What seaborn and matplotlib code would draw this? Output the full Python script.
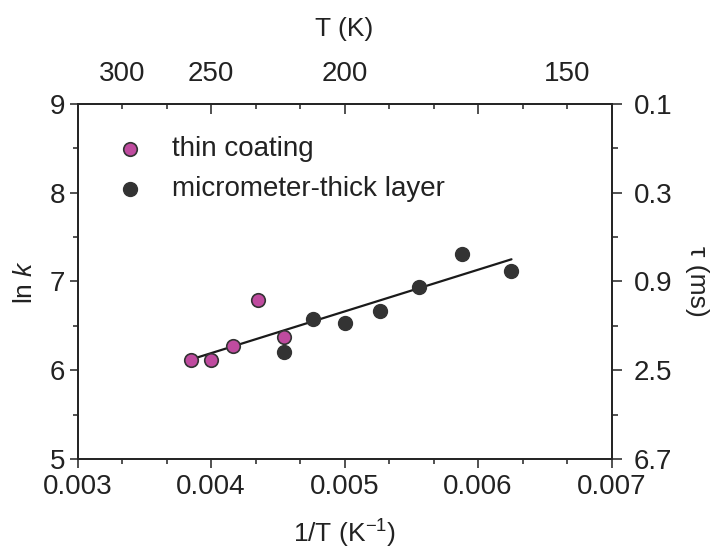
import matplotlib
matplotlib.use("Agg")
import matplotlib.pyplot as plt
import seaborn as sns
import pandas as pd
import numpy as np

# Data
thin_T = [260, 250, 240, 230, 220]
thin_lnk = [6.12, 6.11, 6.27, 6.79, 6.37]
thick_T = [220, 210, 200, 190, 180, 170, 160]
thick_lnk = [6.20, 6.58, 6.53, 6.67, 6.94, 7.31, 7.12]
fit_x = [1 / 260, 1 / 160]
fit_y = [6.12, 7.25]

xticks = [0.003, 0.004, 0.005, 0.006, 0.007]
xtick_labels = ["0.003", "0.004", "0.005", "0.006", "0.007"]
yticks = [5, 6, 7, 8, 9]
tau_labels = ["6.7", "2.5", "0.9", "0.3", "0.1"]
top_T_labels = [300, 250, 200, 150]

sns.set_theme(style="ticks")
plt.rcParams["font.family"] = ["Liberation Sans", "DejaVu Sans"]
plt.rcParams["mathtext.fontset"] = "custom"
plt.rcParams["mathtext.rm"] = "Liberation Sans"
plt.rcParams["mathtext.it"] = "Liberation Sans:italic"

thin = pd.DataFrame({"x": [1 / t for t in thin_T], "y": thin_lnk})
thick = pd.DataFrame({"x": [1 / t for t in thick_T], "y": thick_lnk})
fit = pd.DataFrame({"x": fit_x, "y": fit_y})

fig = plt.figure(figsize=(7.12, 5.53), dpi=100)
ax = fig.add_axes([0.109, 0.170, 0.750, 0.642])

TXT = "#222222"
sns.lineplot(data=fit, x="x", y="y", ax=ax, color="#1a1a1a", lw=1.6, zorder=2)
sns.scatterplot(data=thin, x="x", y="y", ax=ax, s=95, color="#BF4B9F",
                edgecolor="#333333", linewidth=1.2, label="thin coating", zorder=3)
sns.scatterplot(data=thick, x="x", y="y", ax=ax, s=100, color="#333333",
                edgecolor="#333333", linewidth=1.0, label="micrometer-thick layer", zorder=3)

ax.set_xlim(0.003, 0.007)
ax.set_ylim(5, 9)
fs = 20
ax.set_xticks(xticks, xtick_labels, fontsize=fs)
ax.set_xticks(np.arange(0.003, 0.00701, 0.001 / 3), minor=True)
ax.set_yticks(yticks, [str(v) for v in yticks], fontsize=fs)
ax.set_yticks(np.arange(5.5, 9, 1.0), minor=True)
ax.set_xlabel("1/T (K$^{\\mathregular{-1}}$)", fontsize=19, labelpad=13, color=TXT)
ax.set_ylabel("ln $\\it{k}$", fontsize=19, labelpad=9, color=TXT)
ax.tick_params(axis="x", which="major", direction="out", length=6.5, width=1.1,
               color=TXT, labelcolor=TXT, pad=4)
ax.tick_params(axis="y", which="major", direction="out", length=6, width=1.1,
               color=TXT, labelcolor=TXT, pad=3)
ax.tick_params(axis="both", which="minor", direction="out", length=3.5, width=1.1,
               color=TXT)
for sp in ax.spines.values():
    sp.set_linewidth(1.1)
    sp.set_color(TXT)

# right axis (tau)
axr = ax.twinx()
axr.set_ylim(5, 9)
axr.set_yticks(yticks, tau_labels, fontsize=fs)
axr.set_yticks(np.arange(5.5, 9, 1.0), minor=True)
axr.tick_params(axis="y", which="major", direction="out", length=7, width=1.1,
                color=TXT, labelcolor=TXT, pad=9)
axr.tick_params(axis="y", which="minor", direction="out", length=4, width=1.1,
                color=TXT)
axr.set_ylabel("τ (ms)", fontsize=19, rotation=270, labelpad=26, color=TXT)
for sp in axr.spines.values():
    sp.set_linewidth(1.1)
    sp.set_color(TXT)

# top axis (T)
axt = ax.twiny()
axt.set_xlim(0.003, 0.007)
major_top = [1 / top_T_labels[1], 1 / top_T_labels[2], 0.006, 0.007]
axt.set_xticks(major_top, [str(top_T_labels[1]), str(top_T_labels[2]), "", ""], fontsize=fs)
minor_top = [1 / top_T_labels[0], 0.003 + 2 * 0.001 / 3, 0.003 + 4 * 0.001 / 3,
             0.003 + 5 * 0.001 / 3, 0.003 + 7 * 0.001 / 3, 0.003 + 8 * 0.001 / 3,
             0.003 + 10 * 0.001 / 3, 1 / top_T_labels[3]]
minor_lab = [str(top_T_labels[0]), "", "", "", "", "", "", str(top_T_labels[3])]
axt.set_xticks(minor_top, minor_lab, minor=True, fontsize=fs)
axt.tick_params(axis="x", which="major", direction="in", length=7, width=1.1,
                color=TXT, labelcolor=TXT, pad=12)
axt.tick_params(axis="x", which="minor", direction="in", length=3.5, width=1.1,
                color=TXT, labelcolor=TXT, pad=12)
axt.set_xlabel("T (K)", fontsize=19, labelpad=18, color=TXT)

leg = ax.legend(loc="upper left", bbox_to_anchor=(0.072, 0.91), frameon=False,
                fontsize=fs, handlelength=1.0, handletextpad=1.0, labelspacing=0.52,
                borderaxespad=0, borderpad=0)
for t in leg.get_texts():
    t.set_color(TXT)

fig.savefig("out.png", dpi=100)
